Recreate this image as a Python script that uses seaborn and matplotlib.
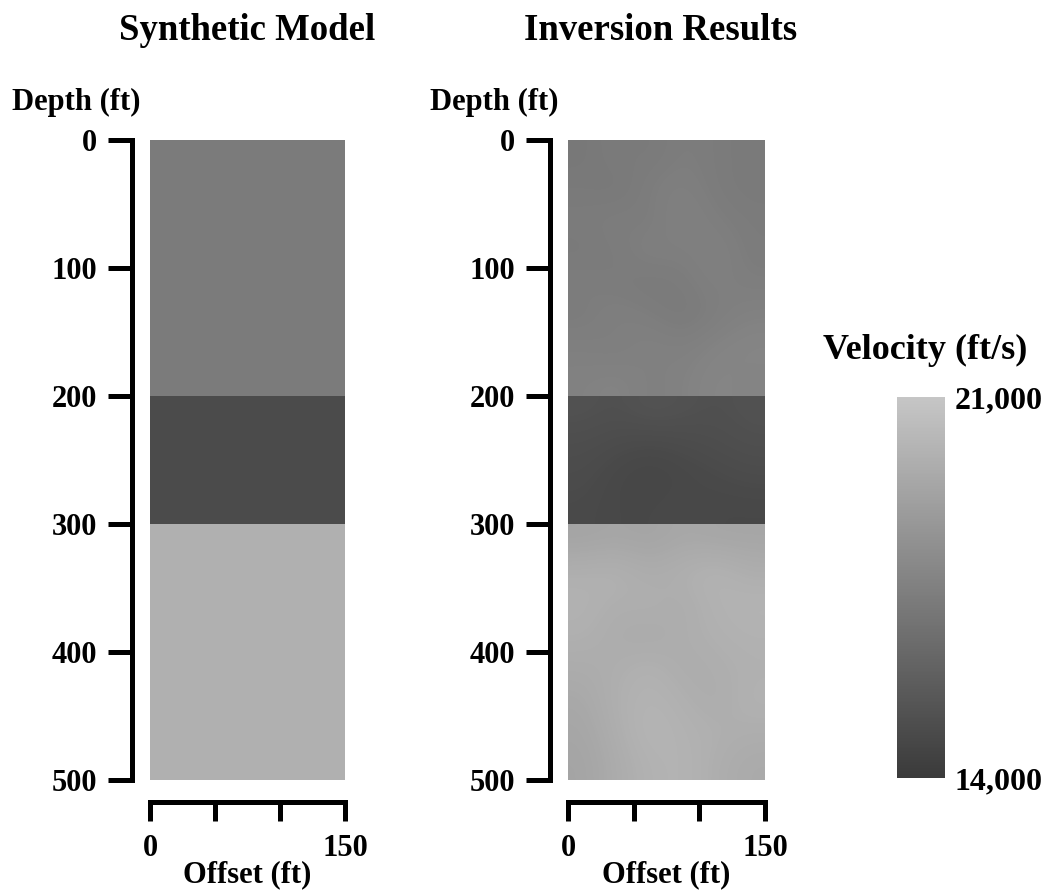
"""
plot.py
Synthetic layered velocity model vs. inversion result, grayscale panels
with detached axes and a velocity colour bar. Saves out.png.
"""

import numpy as np
import matplotlib
matplotlib.use("Agg")
import matplotlib.pyplot as plt
from matplotlib.colors import LinearSegmentedColormap
import seaborn as sns

# -------------------------------------------------------
# Data
# -------------------------------------------------------
DEPTH_MAX = 500          # ft
OFFSET_MAX = 150         # ft
VEL_MIN, VEL_MAX = 14000, 21000

# synthetic model: three flat layers
layer_tops = [0, 200, 300]
layer_bottoms = [200, 300, 500]
layer_velocity = [17300, 14900, 19900]

# inversion result, 25 ft depth rows x 25 ft offset columns
inversion_velocity = [
    [17100, 17300, 17200, 17400, 17300, 17200],   # 0-25
    [17200, 17100, 17400, 17500, 17300, 17200],   # 25-50
    [17300, 17400, 17300, 17600, 17400, 17300],   # 50-75
    [17200, 17300, 17500, 17400, 17600, 17300],   # 75-100
    [17400, 17300, 17200, 17300, 17500, 17400],   # 100-125
    [17300, 17500, 17400, 17200, 17400, 17600],   # 125-150
    [17500, 17400, 17600, 17500, 17700, 17800],   # 150-175
    [17600, 17700, 17500, 17600, 17800, 17700],   # 175-200
    [15200, 15100, 15300, 15200, 15100, 15200],   # 200-225
    [15000, 14900, 14800, 14900, 15000, 15100],   # 225-250
    [14900, 14700, 14600, 14700, 14800, 14900],   # 250-275
    [14800, 14700, 14700, 14800, 14700, 14700],   # 275-300
    [19300, 19400, 19300, 19500, 19400, 19400],   # 300-325
    [19900, 20000, 19700, 19900, 20100, 19800],   # 325-350
    [20000, 19800, 19900, 19700, 20000, 20100],   # 350-375
    [19900, 19700, 19600, 19800, 19900, 20000],   # 375-400
    [19700, 19800, 20000, 19700, 19800, 19900],   # 400-425
    [19500, 19900, 20100, 19900, 19700, 20000],   # 425-450
    [19400, 19800, 20200, 20000, 19900, 19800],   # 450-475
    [19300, 19700, 20000, 20100, 19800, 19600],   # 475-500
]
INV_ROW_FT = 25

depth_ticks = [0, 100, 200, 300, 400, 500]
offset_ticks = [0, 50, 100, 150]
offset_labels = ["0", "", "", "150"]
cbar_ticks = [14000, 21000]
cbar_labels = ["14,000", "21,000"]

# -------------------------------------------------------
# Style
# -------------------------------------------------------
sns.set_theme(style="white")
plt.rcParams.update({
    "font.family": ["Liberation Serif", "DejaVu Serif"],
    "font.weight": "bold",
    "axes.labelweight": "bold",
    "axes.titleweight": "bold",
    "text.color": "black",
    "axes.labelcolor": "black",
    "xtick.color": "black",
    "ytick.color": "black",
    "figure.facecolor": "white",
    "axes.facecolor": "white",
})

gray_cmap = LinearSegmentedColormap.from_list("vel_gray", ["#3a3a3a", "#c6c6c6"])

FS = 22
SPINE_W = 3.6


def synthetic_grid():
    """Expand the layer table onto a 1 ft depth column."""
    depth = np.arange(DEPTH_MAX)
    col = np.zeros(DEPTH_MAX)
    for top, bot, v in zip(layer_tops, layer_bottoms, layer_velocity):
        col[(depth >= top) & (depth < bot)] = v
    return np.tile(col[:, None], (1, 2))


def draw_inversion(ax):
    """One smoothed image per layer so the layer boundaries stay sharp."""
    grid = np.array(inversion_velocity)
    im = None
    for top, bot in zip(layer_tops, layer_bottoms):
        rows = grid[top // INV_ROW_FT: bot // INV_ROW_FT]
        im = ax.imshow(rows, cmap=gray_cmap, vmin=VEL_MIN, vmax=VEL_MAX,
                       extent=[0, OFFSET_MAX, bot, top], aspect="auto",
                       interpolation="bicubic")
    return im


def style_axis(ax):
    ax.set_xlim(0, OFFSET_MAX)
    ax.set_ylim(DEPTH_MAX, 0)
    ax.set_yticks(depth_ticks)
    ax.set_yticklabels([str(d) for d in depth_ticks])
    ax.set_xticks(offset_ticks)
    ax.set_xticklabels(offset_labels)
    sns.despine(ax=ax, offset={"left": 13, "bottom": 16})
    for side in ["left", "bottom"]:
        ax.spines[side].set_linewidth(SPINE_W)
        ax.spines[side].set_color("black")
    ax.spines["left"].set_bounds(0, DEPTH_MAX)
    ax.spines["bottom"].set_bounds(0, OFFSET_MAX)
    ax.tick_params(axis="y", direction="out", length=17, width=SPINE_W,
                   color="black", pad=8, left=True, labelsize=FS)
    ax.tick_params(axis="x", direction="out", length=14, width=SPINE_W,
                   color="black", pad=9, bottom=True, labelsize=FS)
    for lab in ax.get_xticklabels() + ax.get_yticklabels():
        lab.set_fontweight("bold")
    ax.set_xlabel("Offset (ft)", fontsize=FS, fontweight="bold", labelpad=-2)
    ax.grid(False)


fig = plt.figure(figsize=(10.47, 8.90), dpi=100)

ax1 = fig.add_axes([150 / 1047, 1 - 780 / 890, 195 / 1047, 640 / 890])
ax2 = fig.add_axes([568 / 1047, 1 - 780 / 890, 197 / 1047, 640 / 890])
cax = fig.add_axes([897 / 1047, 1 - 778 / 890, 48 / 1047, 381 / 890])

im1 = ax1.imshow(synthetic_grid(), cmap=gray_cmap, vmin=VEL_MIN, vmax=VEL_MAX,
                 extent=[0, OFFSET_MAX, DEPTH_MAX, 0], aspect="auto",
                 interpolation="nearest")
draw_inversion(ax2)

for ax in (ax1, ax2):
    style_axis(ax)

# titles and depth labels
fig.text(247 / 1047, 1 - 30 / 890, "Synthetic Model", ha="center", va="center",
         fontsize=26.5, fontweight="bold")
fig.text(661 / 1047, 1 - 30 / 890, "Inversion Results", ha="center", va="center",
         fontsize=26.5, fontweight="bold")
fig.text(12 / 1047, 1 - 102 / 890, "Depth (ft)", ha="left", va="center",
         fontsize=FS, fontweight="bold")
fig.text(430 / 1047, 1 - 102 / 890, "Depth (ft)", ha="left", va="center",
         fontsize=FS, fontweight="bold")

# colour bar
cb = fig.colorbar(im1, cax=cax)
cb.set_ticks(cbar_ticks)
cb.set_ticklabels(cbar_labels)
cb.outline.set_visible(False)
cax.tick_params(length=0, labelsize=23, pad=7)
for lab in cax.get_yticklabels():
    lab.set_fontweight("bold")
fig.text(823 / 1047, 1 - 350 / 890, "Velocity (ft/s)", ha="left", va="center",
         fontsize=26, fontweight="bold")

fig.savefig("out.png", dpi=100)
plt.close(fig)
print("Saved: out.png")
